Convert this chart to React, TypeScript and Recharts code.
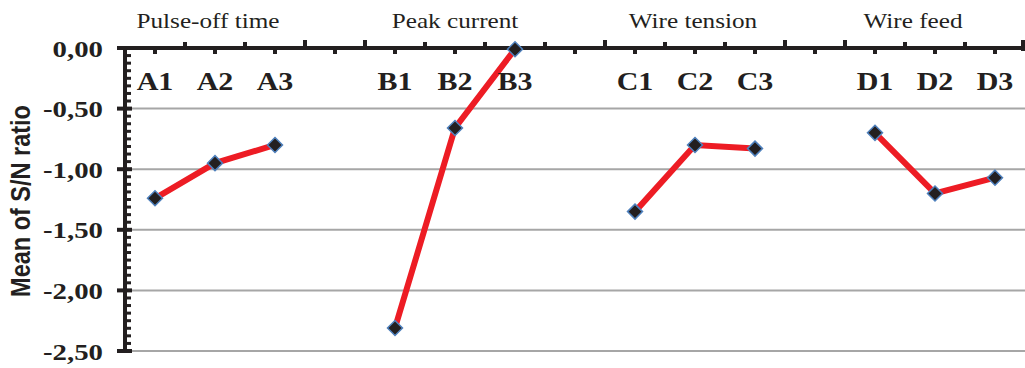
import React from 'react';
import { LineChart, Line, XAxis, YAxis, ReferenceLine } from 'recharts';

// ---- data ----
const categories = ['A1', 'A2', 'A3', 'gap1', 'B1', 'B2', 'B3', 'gap2', 'C1', 'C2', 'C3', 'gap3', 'D1', 'D2', 'D3'];
const categoryLabels = ['A1', 'A2', 'A3', '', 'B1', 'B2', 'B3', '', 'C1', 'C2', 'C3', '', 'D1', 'D2', 'D3'];
const factorNames = ['Pulse-off time', 'Peak current', 'Wire tension', 'Wire feed'];
const pulseOffTime = [-1.24, -0.95, -0.8];
const peakCurrent = [-2.31, -0.66, -0.01];
const wireTension = [-1.35, -0.8, -0.83];
const wireFeed = [-0.7, -1.2, -1.07];
const yMajorTicks = [0, -0.5, -1, -1.5, -2, -2.5];
const yTickLabels = ['0,00', '-0,50', '-1,00', '-1,50', '-2,00', '-2,50'];
const yAxisTitle = 'Mean of S/N ratio';

const seriesKeys = ['pulse', 'peak', 'tension', 'feed'];
const seriesValues = [pulseOffTime, peakCurrent, wireTension, wireFeed];

const data = categories.map((cat, i) => {
  const g = Math.floor(i / 4);
  const lvl = i % 4;
  const row: Record<string, any> = { cat };
  if (lvl < 3) row[seriesKeys[g]] = seriesValues[g][lvl];
  return row;
});

// minor ticks between major ticks (axis decoration)
const MINOR_PER = 8;
const yAllTicks: number[] = [];
yMajorTicks.forEach((v, i) => {
  yAllTicks.push(v);
  if (i < yMajorTicks.length - 1) {
    const n = yMajorTicks[i + 1];
    for (let k = 1; k < MINOR_PER; k++) yAllTicks.push(v + ((n - v) * k) / MINOR_PER);
  }
});

// ---- layout / style ----
const W = 1025;
const H = 368;
const LEFT = 125;
const RIGHT_M = 0;
const TOP = 48;
const BOTTOM_M = 17;
const BAND = (W - LEFT - RIGHT_M) / categories.length;
const INK = '#231F20';
const RED = '#ED1C24';
const GRID = '#A6A6A6';
const SERIF = '"Liberation Serif", "Times New Roman", serif';
const SANS = '"Liberation Sans", Arial, sans-serif';
const STRETCH = 1.2;
const TALL_BOUNDARIES = [0, 3, 4, 8, 11, 12, 15];
const TITLE_DX = [-7, 0, -2, -22];

function XTick(props: any) {
  const { x, index } = props;
  const i: number = typeof index === 'number' ? index : categories.indexOf(props.payload?.value);
  const ay = TOP;
  const left = x - BAND / 2;
  const els: React.ReactNode[] = [];
  els.push(<rect key="d" x={x - 2} y={ay + 1} width={4} height={5} fill={INK} />);
  const tallL = TALL_BOUNDARIES.includes(i);
  if (i > 0) {
    els.push(
      <rect key="u" x={left - 2} y={ay - (tallL ? 8 : 6)} width={4} height={tallL ? 7 : 5} fill={INK} />
    );
  }
  if (i === categories.length - 1) {
    els.push(<rect key="ur" x={x + BAND / 2 - 4} y={ay - 8} width={4} height={11} fill={INK} />);
  }
  const lab = categoryLabels[i];
  if (lab) {
    els.push(
      <text
        key="l"
        transform={`translate(${x},${ay + 42}) scale(${STRETCH},1)`}
        textAnchor="middle"
        fontFamily={SERIF}
        fontWeight="bold"
        fontSize={25}
        fill={INK}
      >
        {lab}
      </text>
    );
  }
  if (i % 4 === 1) {
    const g = Math.floor(i / 4);
    els.push(
      <text
        key="t"
        transform={`translate(${x + TITLE_DX[g]},${ay - 20}) scale(${STRETCH},1)`}
        textAnchor="middle"
        fontFamily={SERIF}
        fontSize={21}
        fill={INK}
      >
        {factorNames[g]}
      </text>
    );
  }
  return <g>{els}</g>;
}

function YTick(props: any) {
  const { y, payload } = props;
  const v = payload?.value;
  const mi = yMajorTicks.findIndex((m) => Math.abs(m - v) < 1e-9);
  const ax = LEFT;
  if (mi >= 0) {
    return (
      <g>
        <rect x={ax - 8} y={y - 2} width={15} height={4} fill={INK} />
        <text
          transform={`translate(${ax - 22},${y + 8.5}) scale(${STRETCH},1)`}
          textAnchor="end"
          fontFamily={SERIF}
          fontWeight="bold"
          fontSize={24}
          fill={INK}
        >
          {yTickLabels[mi]}
        </text>
      </g>
    );
  }
  return <rect x={ax} y={y - 1.5} width={6} height={3} fill={INK} />;
}

function Diamond(props: any) {
  const { cx, cy } = props;
  if (cx == null || cy == null || isNaN(cy)) return <g />;
  const r = 7.5;
  return (
    <path
      d={`M${cx},${cy - r}L${cx + r},${cy}L${cx},${cy + r}L${cx - r},${cy}Z`}
      fill={INK}
      stroke="#4F81BD"
      strokeWidth={1.5}
    />
  );
}

export default function App() {
  return (
    <div style={{ position: 'absolute', left: 0, top: 0, width: W, height: H, background: '#fff' }}>
      <LineChart width={W} height={H} data={data} margin={{ top: 0, right: RIGHT_M, bottom: BOTTOM_M, left: 0 }}>
        {yMajorTicks.slice(1).map((v) => (
          <ReferenceLine key={v} y={v} stroke={GRID} strokeWidth={2} ifOverflow="extendDomain" />
        ))}
        <XAxis
          dataKey="cat"
          orientation="top"
          height={TOP}
          interval={0}
          padding={{ left: BAND / 2, right: BAND / 2 }}
          tickSize={0}
          tickMargin={0}
          tickLine={false}
          axisLine={{ stroke: INK, strokeWidth: 4 }}
          tick={(p: any) => <XTick {...p} />}
        />
        <YAxis
          type="number"
          domain={[-2.5, 0]}
          ticks={yAllTicks}
          interval={0}
          width={LEFT}
          tickSize={0}
          tickMargin={0}
          tickLine={false}
          axisLine={{ stroke: INK, strokeWidth: 4 }}
          tick={(p: any) => <YTick {...p} />}
          label={{
            content: () => (
              <text
                transform={`translate(30,201) scale(${STRETCH},1) rotate(-90)`}
                textAnchor="middle"
                fontFamily={SANS}
                fontWeight="bold"
                fontSize={23.5}
                fill={INK}
              >
                {yAxisTitle}
              </text>
            ),
          }}
        />
        {seriesKeys.map((k) => (
          <Line
            key={k}
            dataKey={k}
            stroke={RED}
            strokeWidth={6}
            dot={(p: any) => <Diamond key={`${k}-${p.index}`} {...p} />}
            activeDot={false}
            isAnimationActive={false}
            connectNulls={false}
          />
        ))}
      </LineChart>
    </div>
  );
}
